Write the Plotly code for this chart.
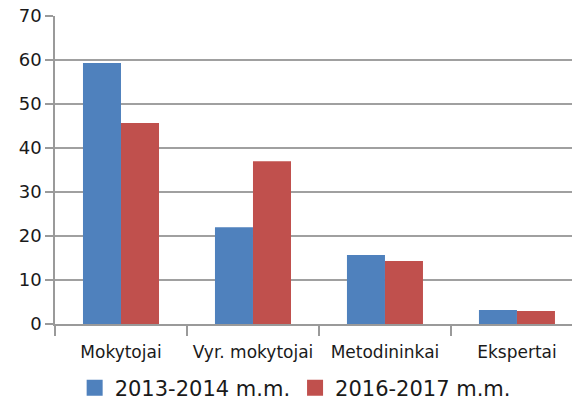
import plotly.graph_objects as go

categories = ["Mokytojai", "Vyr. mokytojai", "Metodininkai", "Ekspertai"]
series_2013 = [59.3, 22.0, 15.7, 3.2]
series_2016 = [45.7, 37.0, 14.3, 2.95]
series_names = ["2013-2014 m.m.", "2016-2017 m.m."]
colors = ["#4F81BD", "#C0504D"]

fig = go.Figure()
for name, vals, col in zip(series_names, [series_2013, series_2016], colors):
    fig.add_trace(go.Bar(x=categories, y=vals, name=name, showlegend=False,
                         marker=dict(color=col, line=dict(width=0))))
# legend entries with larger square swatches
for name, col in zip(series_names, colors):
    fig.add_trace(go.Scatter(x=[None], y=[None], mode="markers", name=name,
                             marker=dict(symbol="square", size=16, color=col)))

fig.update_layout(
    width=572, height=400,
    margin=dict(l=55, r=0, t=16, b=76, autoexpand=False),
    plot_bgcolor="white", paper_bgcolor="white",
    barmode="group", bargap=0.424, bargroupgap=0,
    font=dict(family="DejaVu Sans", color="#1a1a1a"),
    showlegend=True,
    legend=dict(orientation="h", xref="container", yref="container",
                x=0.516, xanchor="center", y=0.03, yanchor="middle",
                font=dict(size=21), traceorder="normal", itemwidth=30),
)
fig.update_xaxes(range=[-0.5, 3.417], showline=True, linecolor="#9a9a9a", linewidth=1.5,
                 ticks="outside", tickson="boundaries", ticklen=10, tickcolor="#9a9a9a", tickwidth=1.5,
                 tickfont=dict(size=17), tickangle=0, ticklabelstandoff=12,
                 showgrid=False, automargin=False)
fig.update_yaxes(range=[0, 70], dtick=10, showgrid=True, gridcolor="#a0a0a0", gridwidth=1.5,
                 showline=True, linecolor="#9a9a9a", linewidth=1.5, ticks="outside", ticklen=8,
                 tickcolor="#9a9a9a", tickwidth=1.5, tickfont=dict(size=18), zeroline=False,
                 automargin=False)

fig.write_html("out.html", config={"displayModeBar": False},
               post_script="document.body.style.margin='0';")
